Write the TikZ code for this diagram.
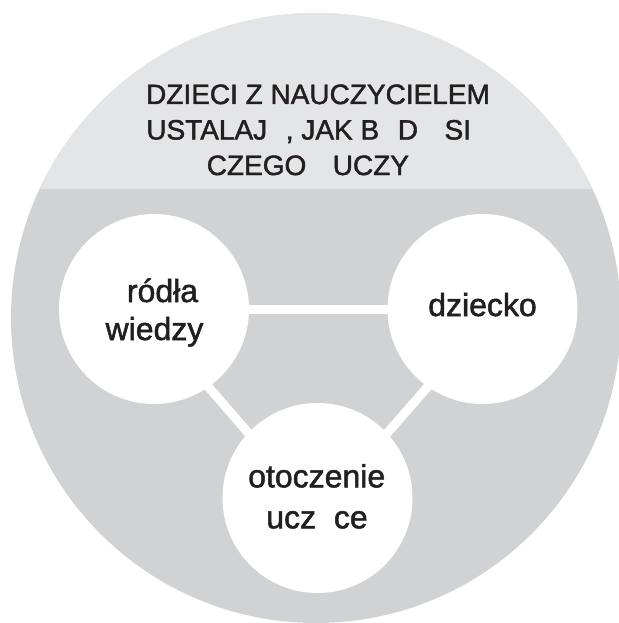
\documentclass[tikz,border=0pt]{standalone}
\usepackage{fontspec}
\setmainfont{Liberation Sans}
\newfontfamily\heavyfont{Liberation Sans}[RawFeature={embolden=1.6}]
\definecolor{capgray}{RGB}{228,229,230}
\definecolor{bodygray}{RGB}{209,210,212}
\definecolor{ink}{RGB}{35,31,32}
\begin{document}
\begin{tikzpicture}[x=1pt,y=-1pt,
  bub/.style={circle,fill=white,minimum size=190pt,inner sep=0pt},
  conn/.style={draw=white,line width=9pt},
  ttl/.style={anchor=base,text=ink,inner sep=0pt,font=\heavyfont\fontsize{28}{34}\selectfont},
  lbl/.style={anchor=base,text=ink,inner sep=0pt,font=\heavyfont\fontsize{32}{38}\selectfont}]
\useasboundingbox (0,0) rectangle (618,623);
\fill[bodygray] (316,318) circle[radius=305];
\begin{scope}
  \clip (0,0) rectangle (618,188);
  \fill[capgray] (316,318) circle[radius=305];
\end{scope}
% bubble positions
\coordinate (Lc) at (154,309);
\coordinate (Rc) at (482.5,309);
\coordinate (Bc) at (317.5,498);
% connectors
\draw[conn] (Lc) -- (Rc);
\draw[conn] ([yshift=-15pt]Lc) -- ([yshift=-15pt]Bc);
\draw[conn] ([yshift=-15pt]Rc) -- ([yshift=-15pt]Bc);
% bubbles
\node[bub] (L) at (Lc) {};
\node[bub] (R) at (Rc) {};
\node[bub] (B) at (Bc) {};
% title
\node[ttl] (t1) at (318,104) {DZIECI Z NAUCZYCIELEM};
\node[ttl] (t2) at (318,139.5) {USTALAJ\phantom{Ą}, JAK B\phantom{Ę}D\phantom{Ą} SI\phantom{Ę}};
\node[ttl] (t3) at (318,175) {CZEGO\phantom{Ś} UCZY\phantom{Ć}};
% labels
\node[lbl] (l1) at (154.5,302) {\phantom{ź}ródła};
\node[lbl] (l2) at (154.5,340) {wiedzy};
\node[lbl] (r1) at (482.5,316) {dziecko};
\node[lbl] (b1) at (316.7,487.3) {otoczenie};
\node[lbl] (b2) at (317,528.3) {ucz\phantom{ą}ce};
\end{tikzpicture}
\end{document}
